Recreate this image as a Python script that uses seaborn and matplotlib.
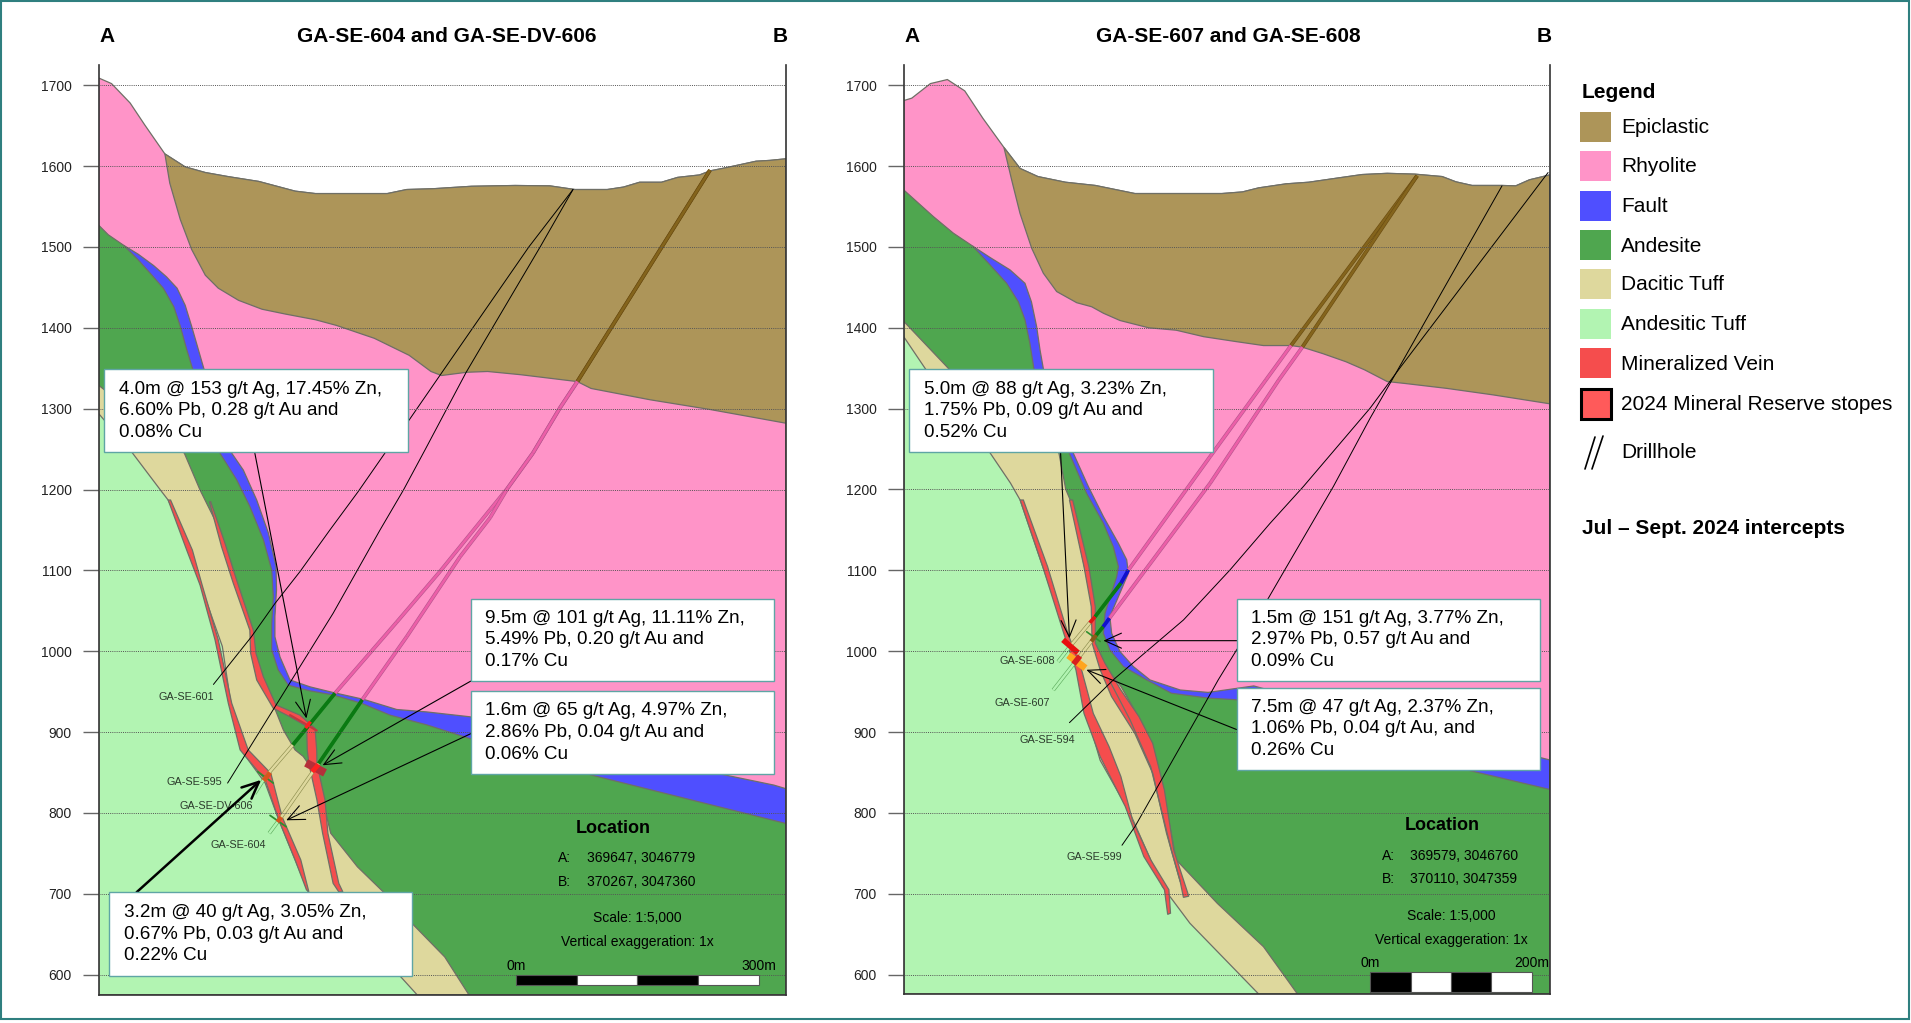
"""
Geological cross sections through two drillhole fans, with assay callouts and legend.
Section positions are metres along the section, elevations in metres.
"""

import matplotlib
matplotlib.use('Agg')
import matplotlib.pyplot as plt
from matplotlib.patches import Rectangle
from matplotlib.lines import Line2D
import seaborn as sns

# ---------- left section ----------
L_topo_x = [0, 16, 39, 57, 82, 107, 132, 160, 198, 243, 268, 357, 381, 414, 461, 515, 558, 589, 629, 649, 669, 696, 716, 743, 756, 776, 813, 830, 850]
L_topo_y = [1709, 1702, 1678, 1651, 1615, 1599, 1592, 1587, 1581, 1569, 1566, 1566, 1571, 1572, 1575, 1576, 1575.5, 1571, 1571, 1574, 1580, 1580, 1586, 1589, 1594, 1598, 1606, 1607, 1609]
L_epi_x = [82, 88, 101, 115, 132, 148, 173, 202, 231, 268, 294, 341, 384, 411, 424, 455, 481, 522, 592, 609, 682, 756, 850]
L_epi_y = [1615, 1579, 1534, 1497, 1465, 1449, 1434, 1423, 1417, 1410, 1403, 1387, 1366, 1346, 1341, 1345, 1346, 1342, 1333.5, 1325, 1311, 1299, 1282]
L_fault_top_x = [31, 49, 68, 84, 97, 107, 115, 130, 164.6, 179, 195.5, 210, 219.4, 220, 218, 218, 224.3, 236.7, 261.4, 290, 327.4, 368.6, 405.7, 459, 615, 835, 850]
L_fault_top_y = [1502, 1491, 1477, 1463, 1449, 1428, 1402, 1350, 1245, 1224, 1187, 1146, 1105, 1076, 1043, 1018, 993, 964.5, 956, 949, 940.6, 928, 925, 919, 880, 834.5, 830]
L_andesite_x = [0, 12, 31, 49, 66, 80, 93, 101, 109, 116, 150, 170.7, 187, 203.7, 214, 216, 214, 214, 222, 234.6, 261.4, 290, 325.3, 360.4, 405.7, 459, 609, 850]
L_andesite_y = [1527, 1515, 1502, 1484, 1465, 1449, 1426, 1402, 1373, 1350, 1245, 1212, 1179, 1138, 1100.6, 1067.6, 1034.6, 1001.6, 977, 958, 951, 946, 935.6, 921, 909, 892, 847, 787]
L_dacite_top_x = [0, 106, 125.4, 146, 162.5, 175, 189.3, 189.3, 197.5, 217, 228.5, 243, 253, 273.5, 280, 287, 320, 354, 388, 428, 458]
L_dacite_top_y = [1329, 1245, 1199.5, 1158, 1109, 1063, 1026, 997.5, 968.6, 931.5, 902.6, 878, 870, 841, 804, 775, 733.5, 700.5, 663, 622, 575]
L_dacite_low_x = [0, 42, 76, 86, 106, 125.4, 153, 166, 176, 206, 223, 243, 260, 374, 394]
L_dacite_low_y = [1294, 1245, 1200, 1187, 1146, 1084, 1006, 919, 878, 837, 791, 742, 700.5, 597, 575]
L_vein_a_x = [86, 109, 125.4, 144, 160.4, 175, 206, 223, 243, 257, 260, 250, 227, 213, 185, 164.6, 148, 128, 116, 89]
L_vein_a_y = [1187, 1125, 1082, 1014, 935.7, 878, 841, 791, 742, 705, 702.5, 742, 795, 849, 878, 935.7, 1014, 1082, 1125, 1187]
L_vein_b_x = [137, 152, 166.6, 187, 188, 195.5, 216, 236.6, 257.3, 258, 260, 270, 277, 290, 297, 302, 297, 283.5, 280, 270, 269.7, 267.6, 249, 219.4, 203.7, 194.6, 191.4, 170.7, 156.3, 138.6]
L_vein_b_y = [1185, 1129.4, 1084, 1026, 997.5, 964.5, 929.5, 919, 907, 878, 861, 816, 775, 713, 702.5, 702.5, 713, 775, 816, 861, 878, 904.7, 921, 933.6, 968.6, 997.5, 1026, 1088, 1133.6, 1185]
L_hole_a_x = [756, 592, 570.5, 537, 506, 484, 422, 368.6, 292.3, 240, 206.5, 193]
L_hole_a_y = [1595, 1333.5, 1301, 1245, 1202, 1175, 1098.5, 1036, 948, 884, 845, 824]
L_hole_a_rock = ['epi'] + ['rhy'] * 7 + ['and', 'dac', 'stub']
L_hole_b_x = [756, 592, 570.5, 537, 506, 484, 447, 381, 326, 272, 223, 211]
L_hole_b_y = [1595, 1333.5, 1301, 1245, 1202, 1165, 1117, 1018, 940, 861, 791, 775]
L_hole_b_rock = ['epi'] + ['rhy'] * 7 + ['and', 'dac', 'stub']
L_trace_601_x = [142, 189, 218, 249, 286, 321, 354, 384, 424, 532, 586.6]
L_trace_601_y = [959, 1018, 1059, 1098.5, 1150, 1197.5, 1245, 1286, 1344, 1500, 1571]
L_trace_595_x = [159.5, 185, 249, 290, 319, 348, 377, 403.6, 454.5, 546, 586.6]
L_trace_595_y = [837, 878, 981, 1047, 1098.5, 1150, 1199.5, 1249, 1345, 1500, 1571]
L_hole_names = ['GA-SE-601', 'GA-SE-595', 'GA-SE-DV-606', 'GA-SE-604']
L_name_x = [108.6, 118, 145, 173]
L_name_y = [943, 838, 809, 761]
L_title = 'GA-SE-604 and GA-SE-DV-606'
L_assays = ['4.0m @ 153 g/t Ag, 17.45% Zn,\n6.60% Pb, 0.28 g/t Au and\n0.08% Cu',
            '9.5m @ 101 g/t Ag, 11.11% Zn,\n5.49% Pb, 0.20 g/t Au and\n0.17% Cu',
            '1.6m @ 65 g/t Ag, 4.97% Zn,\n2.86% Pb, 0.04 g/t Au and\n0.06% Cu',
            '3.2m @ 40 g/t Ag, 3.05% Zn,\n0.67% Pb, 0.03 g/t Au and\n0.22% Cu']
L_box_x0 = [7, 460, 460, 13]
L_box_x1 = [382, 835, 835, 388]
L_box_y0 = [1246, 963, 848, 598]
L_box_y1 = [1349, 1065, 951, 702]
L_arrow_from = [(193, 1246), (460, 963), (460, 898), (47, 702)]
L_arrow_to = [(257, 917), (277, 859), (232, 791), (201, 841)]
L_coord_a = '369647, 3046779'
L_coord_b = '370267, 3047360'

# ---------- right section ----------
R_topo_x = [0, 10, 33, 54, 75.5, 98, 124, 144, 166, 200, 237, 286, 393.5, 419, 439, 473, 501, 535.5, 567, 598, 632, 666, 683, 703, 740, 757, 774, 799]
R_topo_y = [1681, 1684, 1702, 1707, 1693, 1659, 1623, 1597, 1587, 1580, 1576, 1566, 1566, 1568, 1573, 1578, 1580, 1585, 1589.5, 1591, 1590, 1587, 1580.5, 1576, 1576, 1575.5, 1583, 1589]
R_epi_x = [124, 133.5, 143.8, 158.3, 172.7, 189.2, 214, 232.5, 247, 267.5, 303, 337, 371, 410.5, 445, 479, 493, 518.5, 547, 570, 598, 621, 672, 729, 799]
R_epi_y = [1623, 1583, 1541.7, 1498.4, 1467.5, 1444.8, 1431, 1426, 1418, 1409, 1400, 1397, 1389, 1383, 1378, 1378, 1376, 1368, 1358, 1348, 1333.5, 1331, 1325, 1317, 1306]
R_fault_top_x = [85.3, 106.7, 131.5, 150, 158, 164.4, 168.6, 172.7, 209.8, 228.4, 247, 265.5, 275.8, 277.9, 255, 257.2, 267.5, 284, 304.7, 342, 376.5, 433, 558, 785, 799]
R_fault_top_y = [1501, 1487, 1471.6, 1455, 1432, 1401.5, 1372.6, 1349.5, 1244.8, 1203.6, 1166.5, 1133.5, 1113, 1096.4, 1042.8, 1022, 999.5, 981, 964.4, 952, 949, 957, 923, 869, 865.5]
R_andesite_x = [0, 36.6, 61.4, 85.3, 106.7, 127.3, 141.8, 150, 156, 161, 205.7, 226.3, 247, 259.3, 265.5, 263.4, 249, 247, 255, 271.7, 300.5, 331, 376.5, 410.5, 697, 799]
R_andesite_y = [1570.5, 1537.6, 1517, 1501, 1477.8, 1455, 1432, 1409.7, 1381, 1349.5, 1242.7, 1195, 1158, 1129, 1104.6, 1092, 1047, 1022, 1001.5, 981, 964.4, 948, 942, 940, 853, 829]
R_dacite_top_x = [0, 56, 192, 200.5, 206, 215, 232, 234.5, 243, 269, 297, 320, 337, 388, 445, 487]
R_dacite_top_y = [1408, 1349, 1245, 1200, 1187, 1146, 1063, 1014, 989, 956, 907, 832, 742, 688, 634.5, 576]
R_dacite_low_x = [0, 27, 107, 132, 144, 172, 200.5, 215, 226, 243, 280, 320, 354, 439]
R_dacite_low_y = [1389, 1349, 1245, 1208, 1187, 1104.5, 1022, 973, 923, 865, 799.5, 709, 663.5, 576]
R_vein_a_x = [144, 172, 198, 213, 223, 243, 274, 297, 322.5, 326.5, 330, 328, 305.5, 283, 268.6, 254, 234.5, 220, 203, 178, 148]
R_vein_a_y = [1187, 1104.5, 1022, 977, 923, 869.5, 808, 746, 705, 674.5, 676, 705, 742, 791, 845, 882, 923, 977, 1022, 1104.5, 1187]
R_vein_b_x = [205, 223, 232, 233, 243, 257, 286, 308, 325, 342, 346, 352.6, 334, 322.5, 308, 291, 268.6, 249, 237, 237, 229, 209]
R_vein_b_y = [1187, 1104.5, 1055, 1010, 977, 944, 898, 849, 775, 715, 695.5, 697, 754, 828, 886, 919, 952, 985, 1010, 1055, 1104.5, 1187]
R_strand_x = [254.4, 280, 305.5, 331, 342]
R_strand_y = [964, 915, 857, 754, 715]
R_hole_a_x = [635, 479, 448, 379, 278, 268.6, 236.6, 230, 205, 191]
R_hole_a_y = [1588, 1378, 1335.5, 1240.7, 1100.5, 1084, 1042.5, 1035, 1005, 987]
R_hole_a_rock = ['epi', 'rhy', 'rhy', 'rhy', 'flt', 'and', 'vein', 'dac', 'stub']
R_hole_b_x = [635, 493, 464, 379, 254.4, 246.5, 235, 214, 185]
R_hole_b_y = [1588, 1376, 1335.5, 1207.7, 1040.7, 1030, 1016, 989, 952]
R_hole_b_rock = ['epi', 'rhy', 'rhy', 'rhy', 'flt', 'and', 'dac', 'stub']
R_trace_594_x = [205, 261.4, 346, 403.6, 453, 494.3, 576.8, 615, 797]
R_trace_594_y = [911.6, 966.5, 1038.6, 1100.5, 1158, 1203.6, 1300.5, 1352, 1592]
R_trace_599_x = [270, 286, 382, 389, 451, 473.7, 531.4, 576.8, 604, 740]
R_trace_599_y = [760, 783, 952, 964.5, 1065.5, 1104.6, 1203.6, 1288, 1335.5, 1575.5]
R_hole_names = ['GA-SE-608', 'GA-SE-607', 'GA-SE-594', 'GA-SE-599']
R_name_x = [153, 147, 178, 236]
R_name_y = [988, 936, 890, 745]
R_title = 'GA-SE-607 and GA-SE-608'
R_assays = ['5.0m @ 88 g/t Ag, 3.23% Zn,\n1.75% Pb, 0.09 g/t Au and\n0.52% Cu',
            '1.5m @ 151 g/t Ag, 3.77% Zn,\n2.97% Pb, 0.57 g/t Au and\n0.09% Cu',
            '7.5m @ 47 g/t Ag, 2.37% Zn,\n1.06% Pb, 0.04 g/t Au, and\n0.26% Cu']
R_box_x0 = [7, 412, 412]
R_box_x1 = [382, 786.5, 786.5]
R_box_y0 = [1246, 963, 853]
R_box_y1 = [1349, 1065, 955]
R_arrow_from = [(194, 1246), (412, 1013), (412, 903)]
R_arrow_to = [(205, 1016), (247, 1013), (226, 977)]
R_coord_a = '369579, 3046760'
R_coord_b = '370110, 3047359'

# legend entries and shared ticks
legend_names = ['Epiclastic', 'Rhyolite', 'Fault', 'Andesite', 'Dacitic Tuff', 'Andesitic Tuff', 'Mineralized Vein', '2024 Mineral Reserve stopes']
elevations = [600, 700, 800, 900, 1000, 1100, 1200, 1300, 1400, 1500, 1600, 1700]

EPI = '#ad9559'
RHY = '#ff94c8'
FLT = '#4f4fff'
AND = '#4fa64f'
DAC = '#ded89d'
ATF = '#b2f4b2'
VEIN = '#f54d4d'
STOPE = '#ff5a5a'
EDGE = '#6f6f66'
TEAL = '#2f7f7f'
BOX_EDGE = '#5fa5a5'

# outer / inner colour of a drillhole tube
TUBE = {'epi': ('#6b4d12', '#84641c'), 'rhy': ('#b8558f', '#ec5fa8'),
        'and': ('#0a7a12', '#0a7a12'), 'dac': ('#8f8f50', '#ded89d'),
        'stub': ('#5fae5f', '#b2f4b2'), 'flt': ('#1010cc', '#1010cc'),
        'vein': ('#e01515', '#e01515')}

sns.set_theme(style='white')
plt.rcParams['font.family'] = ['Liberation Sans', 'DejaVu Sans']
plt.rcParams['text.color'] = 'black'

W, H = 1911, 1023
fig = plt.figure(figsize=(W / 100, H / 100), dpi=100, facecolor='white')


def add_axes_px(x0, x1, y0, y1):
    return fig.add_axes([x0 / W, 1 - y1 / H, (x1 - x0) / W, (y1 - y0) / H])


def line(ax, x, y, color='black', lw=0.7, z=4, **kw):
    sns.lineplot(x=x, y=y, sort=False, estimator=None, legend=False, ax=ax,
                 color=color, linewidth=lw, zorder=z, **kw)


def tube(ax, x, y, rocks):
    for i, rock in enumerate(rocks):
        outer, inner = TUBE[rock]
        line(ax, x[i:i + 2], y[i:i + 2], outer, 2.7, 4, solid_capstyle='butt')
        line(ax, x[i:i + 2], y[i:i + 2], inner, 1.8, 4, solid_capstyle='butt')


def section(ax, xmax, topo, epi, ftop, andes, dtop, dlow, veins, ybot=575.3):
    tx, ty = topo
    ax.fill(tx + [xmax, 0], ty + [ybot, ybot], RHY, ec=EDGE, lw=0.9, zorder=1)
    # epiclastic sits on the surface right of where its base meets the surface
    start = tx.index(epi[0][0])
    ax.fill(tx[start:] + epi[0][::-1], ty[start:] + epi[1][::-1], EPI, ec=EDGE, lw=0.9, zorder=1.1)
    ax.fill(ftop[0] + [xmax, 0], ftop[1] + [ybot, ybot], FLT, ec=EDGE, lw=0.9, zorder=1.2)
    ax.fill(andes[0] + [xmax, 0], andes[1] + [ybot, ybot], AND, ec=EDGE, lw=0.9, zorder=1.3)
    ax.fill(dtop[0] + [0], dtop[1] + [ybot], DAC, ec=EDGE, lw=0.9, zorder=1.4)
    ax.fill(dlow[0] + [0], dlow[1] + [ybot], ATF, ec=EDGE, lw=0.9, zorder=1.5)
    for vx, vy in veins:
        ax.fill(vx, vy, VEIN, ec=EDGE, lw=0.9, zorder=2)
    ax.hlines(elevations, 0, xmax, colors='#555555', linestyles=(0, (1, 1.2)), lw=0.7, zorder=5)
    ax.set_xlim(0, xmax)
    ax.set_ylim(ybot, 1725)
    ax.set_yticks(elevations)
    ax.set_xticks([])
    ax.tick_params(axis='y', left=True, length=11.5, width=1, color='#666666', pad=8, labelsize=10, labelcolor='#222222')
    ax.spines['top'].set_visible(False)
    for s in ['left', 'right', 'bottom']:
        ax.spines[s].set_color('#333333')
        ax.spines[s].set_linewidth(1.2)
    ax.set_facecolor('white')


def callouts(ax, assays, bx0, bx1, by0, by1, a_from, a_to, text_inset):
    for i, txt in enumerate(assays):
        ax.add_patch(Rectangle((bx0[i], by0[i]), bx1[i] - bx0[i], by1[i] - by0[i], fc='white',
                               ec=BOX_EDGE, lw=1.0, zorder=8))
        ax.text(bx0[i] + text_inset, (by0[i] + by1[i]) / 2, txt, fontsize=13.6, va='center', ha='left',
                linespacing=1.35, zorder=9)
    for i, (start, end) in enumerate(zip(a_from, a_to)):
        thick = ax is ax_l and i == 3
        ax.annotate('', xy=end, xytext=start, zorder=7,
                    arrowprops=dict(arrowstyle='->,head_length=1.0,head_width=0.45', color='black',
                                    lw=1.8 if thick else 0.8, mutation_scale=12, shrinkA=0, shrinkB=0))


def location(ax, cx, ax_a, ax_v, ya, yb, coord_a, coord_b, yloc, yscale, yvert):
    ax.text(cx[0], yloc, 'Location', fontsize=13, fontweight='bold', ha='center', va='center', zorder=6)
    ax.text(ax_a, ya, 'A:', fontsize=10, va='center', zorder=6)
    ax.text(ax_v, ya, coord_a, fontsize=10, va='center', zorder=6)
    ax.text(ax_a, yb, 'B:', fontsize=10, va='center', zorder=6)
    ax.text(ax_v, yb, coord_b, fontsize=10, va='center', zorder=6)
    ax.text(cx[1], yscale, 'Scale: 1:5,000', fontsize=10, ha='center', va='center', zorder=6)
    ax.text(cx[1], yvert, 'Vertical exaggeration: 1x', fontsize=10, ha='center', va='center', zorder=6)


def scale_bar(ax, x0, metres, y0, y1, label):
    step = metres / 4
    for i in range(4):
        ax.bar(x0 + i * step, y1 - y0, width=step, bottom=y0, align='edge',
               color='black' if i % 2 == 0 else 'white', ec='#555555', lw=0.8, zorder=6)
    ax.text(x0, y1 + 11, '0m', fontsize=10, ha='center', va='center', zorder=6)
    ax.text(x0 + metres, y1 + 11, label, fontsize=10, ha='center', va='center', zorder=6)


# ---------- left panel ----------
ax_l = add_axes_px(98.6, 786, 65, 994.7)
section(ax_l, 850, (L_topo_x, L_topo_y), (L_epi_x, L_epi_y), (L_fault_top_x, L_fault_top_y),
        (L_andesite_x, L_andesite_y), (L_dacite_top_x, L_dacite_top_y), (L_dacite_low_x, L_dacite_low_y),
        [(L_vein_a_x, L_vein_a_y), (L_vein_b_x, L_vein_b_y)])
tube(ax_l, L_hole_a_x, L_hole_a_y, L_hole_a_rock)
tube(ax_l, L_hole_b_x, L_hole_b_y, L_hole_b_rock)
line(ax_l, L_trace_601_x, L_trace_601_y)
line(ax_l, L_trace_595_x, L_trace_595_y)
# stope intersections on the two tubes
line(ax_l, [236.7, 269.7], [921, 902], '#c0393f', 1.6, 4.5)
line(ax_l, [256, 262], [905, 913], '#ff2020', 2.5, 4.6, solid_capstyle='butt')
line(ax_l, [256.5, 280], [862, 849.6], '#b5303a', 5.8, 4.5, solid_capstyle='butt')
line(ax_l, [264, 272], [851, 860], '#ff2020', 3.5, 4.6, solid_capstyle='butt')
line(ax_l, [197, 216], [851, 837], '#2f8f2f', 1.3, 4.5)
line(ax_l, [204, 212], [840, 850], '#d9541e', 3.5, 4.6, solid_capstyle='butt')
line(ax_l, [212, 232], [797, 783], '#2f8f2f', 1.3, 4.5)
line(ax_l, [221, 226], [789, 795], '#d9541e', 3.0, 4.6, solid_capstyle='butt')
for name, x, y in zip(L_hole_names, L_name_x, L_name_y):
    ax_l.text(x, y, name, fontsize=7.8, ha='center', va='center', color='#2b3a2b', zorder=6)
callouts(ax_l, L_assays, L_box_x0, L_box_x1, L_box_y0, L_box_y1, L_arrow_from, L_arrow_to, 18)
location(ax_l, (636, 666), 568.5, 604, 744, 715, L_coord_a, L_coord_b, 781, 669.6, 641)
scale_bar(ax_l, 516, 300, 587, 600, '300m')

# ---------- right panel ----------
ax_r = add_axes_px(903.7, 1549.7, 65, 994)
section(ax_r, 799, (R_topo_x, R_topo_y), (R_epi_x, R_epi_y), (R_fault_top_x, R_fault_top_y),
        (R_andesite_x, R_andesite_y), (R_dacite_top_x, R_dacite_top_y), (R_dacite_low_x, R_dacite_low_y),
        [(R_vein_a_x, R_vein_a_y), (R_vein_b_x, R_vein_b_y)], ybot=576)
line(ax_r, R_strand_x, R_strand_y, EDGE, 0.9, 2.5)
tube(ax_r, R_hole_a_x, R_hole_a_y, R_hole_a_rock)
tube(ax_r, R_hole_b_x, R_hole_b_y, R_hole_b_rock)
line(ax_r, R_trace_594_x, R_trace_594_y)
line(ax_r, R_trace_599_x, R_trace_599_y)
line(ax_r, [197, 215.6], [1014, 998], '#e80f0f', 4.0, 4.6, solid_capstyle='butt')
line(ax_r, [203.7, 224.7], [995, 979], '#ffa51f', 5.0, 4.5, solid_capstyle='butt')
line(ax_r, [210, 218], [984, 994], '#d81f1f', 4.0, 4.6, solid_capstyle='butt')
line(ax_r, [226.3, 243], [1024, 1012], '#2f8f2f', 1.2, 4.5)
line(ax_r, [232, 238], [1012, 1020], '#8a5a1a', 3.0, 4.6, solid_capstyle='butt')
for name, x, y in zip(R_hole_names, R_name_x, R_name_y):
    ax_r.text(x, y, name, fontsize=7.8, ha='center', va='center', color='#2b3a2b', zorder=6)
callouts(ax_r, R_assays, R_box_x0, R_box_x1, R_box_y0, R_box_y1, R_arrow_from, R_arrow_to, 18)
location(ax_r, (666, 677), 592, 626, 747, 718, R_coord_a, R_coord_b, 784, 672.5, 643)
scale_bar(ax_r, 577, 200, 579, 603, '200m')

# ---------- page furniture in pixel coordinates ----------
page = fig.add_axes([0, 0, 1, 1], zorder=-1)
page.set_xlim(0, W)
page.set_ylim(H, 0)
page.axis('off')
page.add_patch(Rectangle((1, 1), W - 3, 1018, fc='none', ec=TEAL, lw=1.5))

for txt, x in [(L_title, 447), (R_title, 1228), ('A', 107), ('B', 780.5), ('A', 912), ('B', 1544)]:
    page.text(x, 36, txt, fontsize=15, fontweight='bold', ha='center', va='center')

page.text(1582, 93, 'Legend', fontsize=15, fontweight='bold', va='center')
legend_y = [127.7, 167, 207, 246, 285, 325, 364, 405]
legend_colors = [EPI, RHY, FLT, AND, DAC, ATF, VEIN, STOPE]
for i, (name, c, y) in enumerate(zip(legend_names, legend_colors, legend_y)):
    if i == 7:
        page.add_patch(Rectangle((1580.5, y - 16), 30, 30, fc=c, ec='black', lw=2.2))
    else:
        page.add_patch(Rectangle((1580, y - 16), 30.5, 30, fc=c, ec='none'))
    page.text(1621, y, name, fontsize=15, va='center')
page.add_line(Line2D([1603, 1592], [436, 469], color='black', lw=1.2))
page.add_line(Line2D([1595, 1585], [437, 469], color='black', lw=1.2))
page.text(1621, 453, 'Drillhole', fontsize=15, va='center')
page.text(1582, 529, 'Jul – Sept. 2024 intercepts', fontsize=15, fontweight='bold', va='center')

fig.savefig('out.png', dpi=100)
